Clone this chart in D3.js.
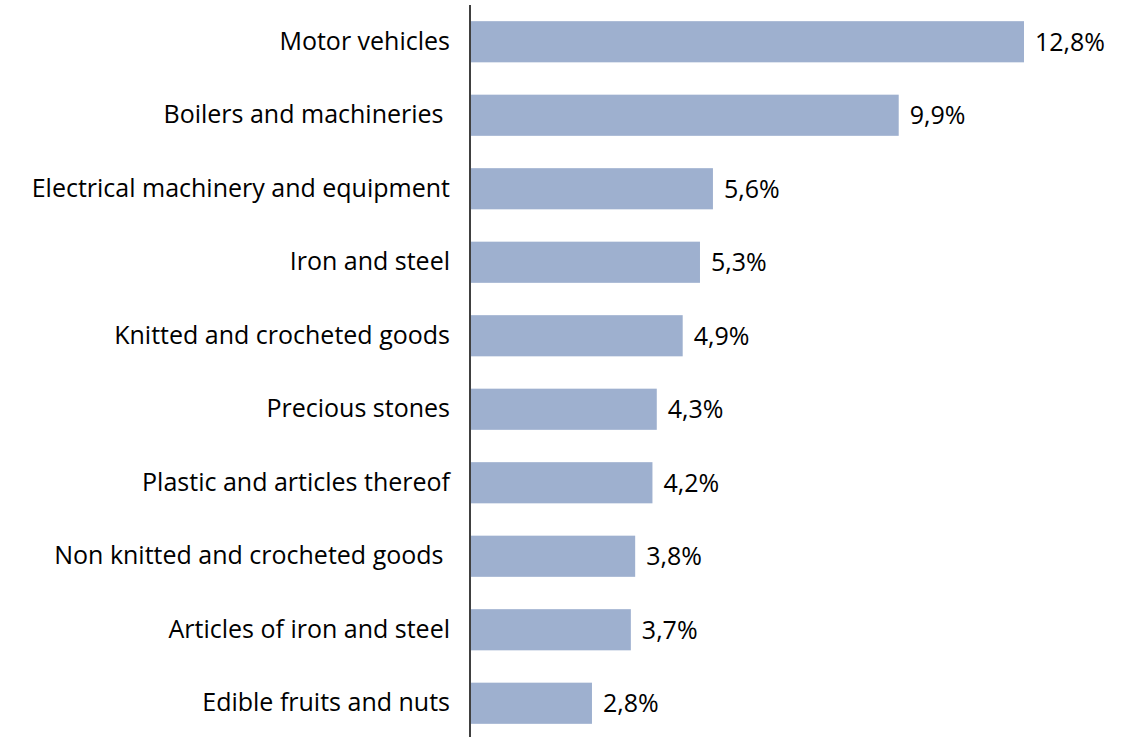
<!DOCTYPE html>
<html>
<head>
<meta charset="utf-8">
<script src="https://cdn.jsdelivr.net/npm/d3@7"></script>
<style>
  html, body { margin: 0; padding: 0; background: #ffffff; }
  svg { display: block; }
  text { font-family: "Open Sans", Lato, sans-serif; fill: #000000; white-space: pre; }
</style>
</head>
<body>
<svg id="chart"></svg>
<script>
const categories = [
    "Motor vehicles",
    "Boilers and machineries ",
    "Electrical machinery and equipment",
    "Iron and steel",
    "Knitted and crocheted goods",
    "Precious stones",
    "Plastic and articles thereof",
    "Non knitted and crocheted goods ",
    "Articles of iron and steel",
    "Edible fruits and nuts"
];
const values = [12.8, 9.9, 5.6, 5.3, 4.9, 4.3, 4.2, 3.8, 3.7, 2.8];
const valueLabels = ["12,8%", "9,9%", "5,6%", "5,3%", "4,9%", "4,3%", "4,2%", "3,8%", "3,7%", "2,8%"];

const width = 1137;
const height = 737;
const margin = ({top: 5, right: 20, bottom: -3, left: 471});
const fontSize = 25;

const data = categories.map((c, i) => ({name: c, value: values[i], label: valueLabels[i]}));

const x = d3.scaleLinear()
    .domain([0, 12.8])
    .range([margin.left, 1024]);
const y = d3.scaleBand()
    .domain(categories)
    .range([margin.top, height - margin.bottom])
    .paddingInner(0.44)
    .paddingOuter(0.22);

const svg = d3.select("#chart")
    .attr("width", width)
    .attr("height", height);

// bars
svg.append("g")
    .selectAll("rect")
    .data(data)
    .join("rect")
    .attr("x", x(0))
    .attr("y", d => y(d.name))
    .attr("width", d => x(d.value) - x(0))
    .attr("height", y.bandwidth())
    .attr("fill", "#9eb0cf");

// value labels
svg.append("g")
    .selectAll("text")
    .data(data)
    .join("text")
    .attr("x", d => x(d.value) + 11)
    .attr("y", d => y(d.name) + y.bandwidth() / 2)
    .attr("dy", "0.35em")
    .attr("font-size", fontSize)
    .text(d => d.label);

// category axis
const yAxis = g =>
    g.attr("transform", `translate(${margin.left - 1},0)`)
    .call(d3.axisLeft(y).tickSize(0).tickPadding(20))
    .call(g => g.select(".domain")
        .attr("d", `M0,${margin.top}V${height}`)
        .attr("stroke", "#000")
        .attr("stroke-width", 1.5))
    .call(g => g.selectAll(".tick text")
        .attr("font-family", null)
        .attr("font-size", fontSize)
        .attr("fill", "#000"));

svg.append("g")
    .attr("font-family", null)
    .attr("font-size", null)
    .call(yAxis);
</script>
</body>
</html>
